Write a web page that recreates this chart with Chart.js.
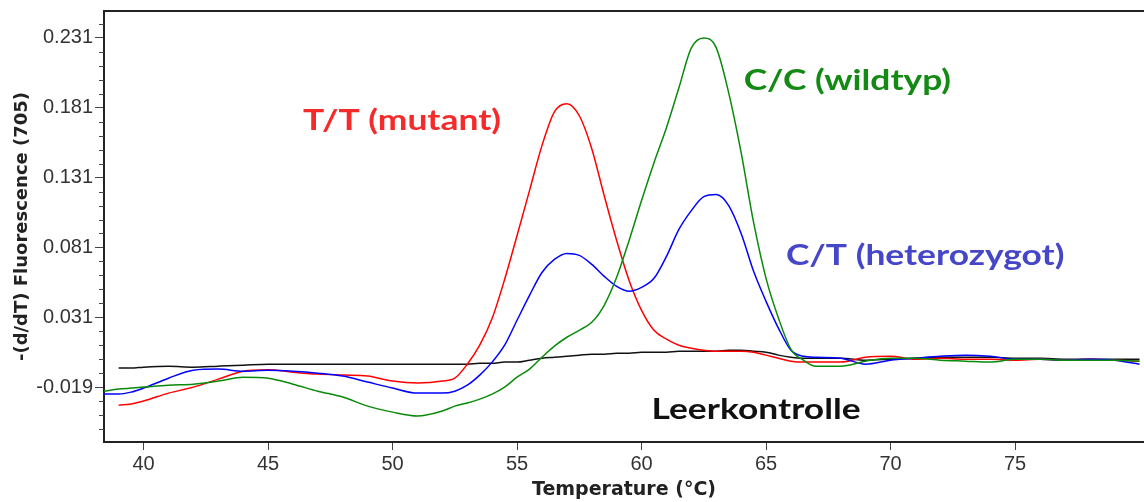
<!DOCTYPE html>
<html>
<head>
  <meta charset="utf-8">
  <script src="https://cdn.jsdelivr.net/npm/chart.js@4"></script>
  <style>
    html, body { margin: 0; padding: 0; background: #fff; }
    canvas { display: block; }
  </style>
</head>
<body>
  <canvas id="meltCanvas" width="1144" height="502"></canvas>

  <script>
    // Temperatures (°C) at which the melt curves were read
    var temps = [38.4, 39, 39.5, 40, 41, 42, 43, 44, 45, 46, 47, 48, 49, 50, 51, 52,
      52.5, 53, 53.5, 54, 54.5, 55, 55.5, 56, 56.5, 57, 57.5, 58, 58.5, 59, 59.5,
      60, 60.5, 61, 61.5, 62, 62.5, 63, 63.5, 64, 64.5, 65, 65.5, 66, 66.5, 67,
      68, 69, 70, 71, 72, 73, 74, 75, 76, 77, 78, 79, 80];

    // -(d/dT) Fluorescence (705)
    var mutant = [null, -0.0319, -0.0311, -0.0290, -0.0233, -0.0190, -0.0133, -0.0076, -0.0065,
      -0.0083, -0.0097, -0.0104, -0.0111, -0.0147, -0.0161, -0.0147,
      -0.0126, -0.0026, 0.0110, 0.0303, 0.0581, 0.0896, 0.1217, 0.1539, 0.1781, 0.1839, 0.1753,
      0.1517, 0.1181, 0.0860, 0.0574, 0.0360, 0.0217, 0.0153, 0.0110, 0.0089, 0.0074, 0.0067,
      0.0067, 0.0067, 0.0060, 0.0039, 0.0017, -0.0004, -0.0011, -0.0011,
      -0.0011, 0.0024, 0.0031, 0.0010, 0.0017, 0.0010, 0.0010, 0.0003, 0.0010, 0.0003, 0.0010, 0.0003, -0.0004];

    var heterozygot = [-0.0240, -0.0240, -0.0226, -0.0197, -0.0126, -0.0069, -0.0061, -0.0076, -0.0069,
      -0.0076, -0.0090, -0.0111, -0.0154, -0.0197, -0.0233, -0.0233,
      -0.0219, -0.0176, -0.0104, -0.0011, 0.0110, 0.0289, 0.0467, 0.0631, 0.0724, 0.0767, 0.0753,
      0.0689, 0.0603, 0.0531, 0.0496, 0.0524, 0.0589, 0.0746, 0.0939, 0.1074, 0.1174, 0.1189,
      0.1110, 0.0910, 0.0639, 0.0424, 0.0231, 0.0074, 0.0031, 0.0024,
      0.0017, -0.0026, 0.0003, 0.0017, 0.0031, 0.0039, 0.0031, 0.0010, 0.0010, 0.0003, 0.0010, 0.0003, -0.0026];

    var wildtyp = [-0.0219, -0.0204, -0.0197, -0.0190, -0.0176, -0.0169, -0.0147, -0.0119, -0.0126,
      -0.0169, -0.0219, -0.0261, -0.0326, -0.0369, -0.0397, -0.0361,
      -0.0326, -0.0304, -0.0276, -0.0240, -0.0190, -0.0119, -0.0061, 0.0024, 0.0103, 0.0167, 0.0217,
      0.0274, 0.0396, 0.0596, 0.0860, 0.1146, 0.1417, 0.1667, 0.1953, 0.2239, 0.2310, 0.2239,
      0.1917, 0.1489, 0.0989, 0.0589, 0.0303, 0.0081, 0.0003, -0.0040,
      -0.0040, -0.0004, 0.0017, 0.0017, 0.0003, -0.0004, -0.0011, 0.0010, 0.0010, 0.0003, 0.0003, 0.0003, -0.0004];

    var leerkontrolle = [null, -0.0054, -0.0054, -0.0047, -0.0040, -0.0047, -0.0040, -0.0033, -0.0026,
      -0.0026, -0.0026, -0.0026, -0.0026, -0.0026, -0.0026, -0.0026,
      -0.0026, -0.0026, -0.0019, -0.0019, -0.0011, -0.0011, 0.0003, 0.0017, 0.0024, 0.0031, 0.0039,
      0.0046, 0.0046, 0.0053, 0.0053, 0.0060, 0.0060, 0.0060, 0.0067, 0.0067, 0.0067, 0.0067,
      0.0074, 0.0074, 0.0067, 0.0060, 0.0039, 0.0024, 0.0017, 0.0017,
      0.0017, 0.0003, 0.0010, 0.0017, 0.0024, 0.0024, 0.0024, 0.0017, 0.0017, 0.0010, 0.0010, 0.0010, 0.0010];

    // Tick labels
    var xTicks = [40, 45, 50, 55, 60, 65, 70, 75];
    var yTicks = [-0.019, 0.031, 0.081, 0.131, 0.181, 0.231];
    var yMinorStep = 0.01;

    // Curve labels written inside the plot (data coordinates)
    var curveLabels = [
      { text: 'T/T (mutant)', color: '#f52a2a', x: 46.4, y: 0.1717 },
      { text: 'C/C (wildtyp)', color: '#138a13', x: 64.1, y: 0.2005 },
      { text: 'C/T (heterozygot)', color: '#4646c8', x: 65.8, y: 0.0753 },
      { text: 'Leerkontrolle', color: '#111111', x: 60.4, y: -0.0350 }
    ];

    function points(values) {
      return temps.map(function(t, i) { return { x: t, y: values[i] }; });
    }

    var framePlugin = {
      id: 'frame',
      afterDraw: function(chart) {
        var ctx = chart.ctx;
        var area = chart.chartArea;
        var yScale = chart.scales.y;
        var xScale = chart.scales.x;
        ctx.save();
        // top border
        ctx.strokeStyle = '#222';
        ctx.lineWidth = 2;
        ctx.beginPath();
        ctx.moveTo(area.left, area.top);
        ctx.lineTo(area.right, area.top);
        ctx.stroke();
        // minor ticks on the y axis
        ctx.lineWidth = 1;
        ctx.strokeStyle = '#444';
        var start = yTicks[0];
        while (start - yMinorStep > yScale.min) start -= yMinorStep;
        for (var v = start; v < yScale.max; v += yMinorStep) {
          var isMajor = yTicks.some(function(t) { return Math.abs(t - v) < 1e-6; });
          if (isMajor) continue;
          var py = Math.round(yScale.getPixelForValue(v)) + 0.5;
          ctx.beginPath();
          ctx.moveTo(area.left - 5, py);
          ctx.lineTo(area.left, py);
          ctx.stroke();
        }
        // curve labels (slightly widened like the original)
        ctx.font = 'bold 29px Lato';
        ctx.textBaseline = 'middle';
        ctx.textAlign = 'left';
        curveLabels.forEach(function(l) {
          ctx.save();
          ctx.translate(xScale.getPixelForValue(l.x), yScale.getPixelForValue(l.y));
          ctx.scale(1.22, 1);
          ctx.fillStyle = l.color;
          ctx.fillText(l.text, 0, 0);
          ctx.restore();
        });
        ctx.restore();
      }
    };

    var lineStyle = { borderWidth: 1.5, pointRadius: 0, fill: false, cubicInterpolationMode: 'monotone' };

    new Chart(document.getElementById('meltCanvas'), {
      type: 'line',
      data: {
        datasets: [
          Object.assign({ label: 'C/C (wildtyp)', data: points(wildtyp), borderColor: '#0a8a0a' }, lineStyle),
          Object.assign({ label: 'C/T (heterozygot)', data: points(heterozygot), borderColor: '#0000ff' }, lineStyle),
          Object.assign({ label: 'T/T (mutant)', data: points(mutant), borderColor: '#ff0000' }, lineStyle),
          Object.assign({ label: 'Leerkontrolle', data: points(leerkontrolle), borderColor: '#111111' }, lineStyle)
        ]
      },
      options: {
        responsive: false,
        animation: false,
        devicePixelRatio: 1,
        layout: { padding: { top: 11, left: 0, right: 0, bottom: 0 } },
        plugins: { legend: { display: false }, tooltip: { enabled: false } },
        scales: {
          x: {
            type: 'linear',
            min: 38.41,
            max: 80.18,
            afterBuildTicks: function(scale) {
              scale.ticks = xTicks.map(function(v) { return { value: v }; });
            },
            afterFit: function(scale) {
              scale.height = 60;
              scale.paddingRight = 0;
            },
            ticks: {
              color: '#333',
              font: { family: 'Liberation Sans', size: 20 },
              padding: 2,
              maxRotation: 0,
              autoSkip: false
            },
            grid: { drawOnChartArea: false, drawTicks: true, tickLength: 8, color: '#444' },
            border: { display: true, color: '#222', width: 2 },
            title: {
              display: true,
              text: 'Temperature (°C)',
              color: '#222',
              font: { family: 'DejaVu Sans', size: 19, weight: 'bold' },
              padding: { top: 0, bottom: 1 }
            }
          },
          y: {
            min: -0.0583,
            max: 0.2503,
            afterBuildTicks: function(scale) {
              scale.ticks = yTicks.map(function(v) { return { value: v }; });
            },
            afterFit: function(scale) {
              scale.width = 104;
              scale.paddingTop = 0;
              scale.paddingBottom = 0;
            },
            ticks: {
              color: '#333',
              font: { family: 'Liberation Sans', size: 20 },
              padding: 2,
              callback: function(v) { return v.toFixed(3); }
            },
            grid: { drawOnChartArea: false, drawTicks: true, tickLength: 9, color: '#444' },
            border: { display: true, color: '#222', width: 2 },
            title: {
              display: true,
              text: '-(d/dT) Fluorescence (705)',
              color: '#222',
              font: { family: 'DejaVu Sans', size: 18, weight: 'bold' },
              padding: { top: 12, bottom: 0 }
            }
          }
        }
      },
      plugins: [framePlugin]
    });
  </script>
</body>
</html>
